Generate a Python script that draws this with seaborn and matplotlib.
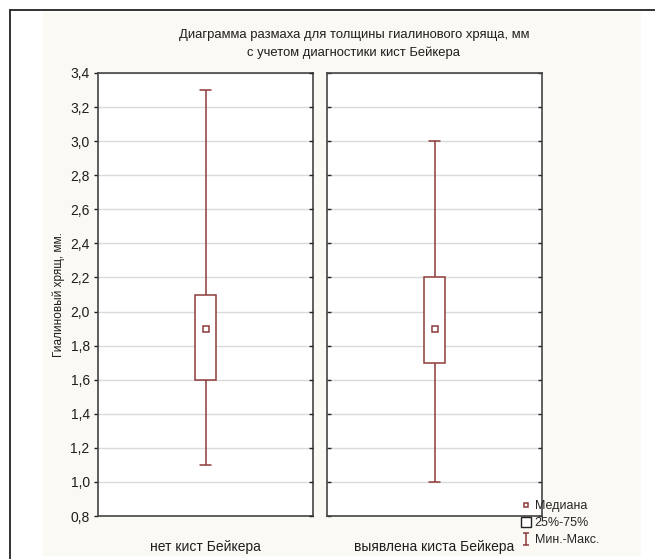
import numpy as np
import pandas as pd
import seaborn as sns
import matplotlib
matplotlib.use('Agg')
import matplotlib.pyplot as plt
from matplotlib.lines import Line2D
from matplotlib.patches import Patch, Rectangle
from matplotlib.path import Path
from matplotlib.ticker import FuncFormatter, MultipleLocator

# five-number summaries
groups = ['нет кист Бейкера', 'выявлена киста Бейкера']
mins = [1.1, 1.0]
q1s = [1.6, 1.7]
medians = [1.9, 1.9]
q3s = [2.1, 2.2]
maxs = [3.3, 3.0]

title = 'Диаграмма размаха для толщины гиалинового хряща, мм\nс учетом диагностики кист Бейкера'
ylabel = 'Гиалиновый хрящ, мм.'
legend_labels = ['Медиана', '25%-75%', 'Мин.-Макс.']

rows = []
for g, a, b, c, d, e in zip(groups, mins, q1s, medians, q3s, maxs):
    for v in (a, b, c, d, e):
        rows.append({'group': g, 'value': v})
df = pd.DataFrame(rows)

sns.set_style('white')
plt.rcParams['font.family'] = ['Liberation Sans', 'DejaVu Sans']

col = '#8E3B3B'
txt = '#1E1E1E'
W, H = 655, 559
fig = plt.figure(figsize=(W / 100, H / 100), dpi=100)
fig.patch.set_facecolor('white')

# cream panel and frame lines
fig.add_artist(Rectangle((43 / W, 1 - 556 / H), (641 - 43) / W, (556 - 12) / H,
                         transform=fig.transFigure, facecolor='#FBF9F4', edgecolor='none', zorder=0))
fig.add_artist(Line2D([10 / W, 10 / W], [0, 1 - 10 / H], transform=fig.transFigure, color='#222222', lw=1.3))
fig.add_artist(Line2D([10 / W, 1], [1 - 10 / H, 1 - 10 / H], transform=fig.transFigure, color='#222222', lw=1.3))

top, bot = 73, 516
panels = [(98, 313), (327, 542)]
fmt = FuncFormatter(lambda v, p: f'{v:.1f}'.replace('.', ','))
for i, (l, r) in enumerate(panels):
    ax = fig.add_axes([l / W, 1 - bot / H, (r - l) / W, (bot - top) / H])
    sub = df[df['group'] == groups[i]]
    sns.boxplot(data=sub, x='group', y='value', ax=ax, whis=(0, 100), width=0.1,
                color='white', linecolor=col, linewidth=1.1, fliersize=0,
                medianprops={'visible': False})
    sns.pointplot(data=sub, x='group', y='value', ax=ax, estimator='median', errorbar=None,
                  marker='s', linestyle='none', markersize=4.5, color=col,
                  markerfacecolor='white', markeredgewidth=1.1)
    ax.set_ylim(0.8, 3.4)
    ax.set_xlim(-0.5, 0.5)
    ax.yaxis.set_major_locator(MultipleLocator(0.2))
    ax.grid(axis='y', color='#DADADA', lw=1)
    ax.set_axisbelow(True)
    for s in ax.spines.values():
        s.set_color('#444444')
        s.set_linewidth(1.2)
    ax.set_xlabel('')
    ax.set_ylabel('')
    ax.tick_params(axis='x', length=0, pad=17, labelsize=10, colors=txt)
    if i == 0:
        ax.tick_params(axis='y', left=True, right=False, direction='out', length=3, width=1,
                       labelsize=10, colors=txt, pad=3)
        ax.yaxis.set_major_formatter(fmt)
        ax.set_ylabel(ylabel, fontsize=8.5, color=txt, labelpad=4)
        # inward ticks on the inner side
        tw = ax.twinx()
        tw.set_ylim(0.8, 3.4)
        tw.yaxis.set_major_locator(MultipleLocator(0.2))
        tw.tick_params(axis='y', right=True, direction='in', length=3, width=1, labelright=False)
        for s in tw.spines.values():
            s.set_visible(False)
    else:
        ax.tick_params(axis='y', left=True, right=True, direction='in', length=3, width=1,
                       labelleft=False)

fig.text(354 / W, 1 - 44 / H, title, ha='center', va='center', fontsize=9.4, color=txt,
         linespacing=1.6)

ibeam = Path([(-0.5, 1), (0.5, 1), (0, 1), (0, -1), (-0.5, -1), (0.5, -1)],
             [Path.MOVETO, Path.LINETO, Path.MOVETO, Path.LINETO, Path.MOVETO, Path.LINETO])
handles = [
    Line2D([], [], marker='s', linestyle='none', markersize=3.5, markerfacecolor='white',
           markeredgecolor=col, markeredgewidth=1.1),
    Patch(facecolor='white', edgecolor='#222222', linewidth=1),
    Line2D([], [], marker=ibeam, linestyle='none', markersize=9, markeredgecolor=col,
           markerfacecolor='none', markeredgewidth=1.1),
]
fig.legend(handles, legend_labels, loc='upper left', bbox_to_anchor=(521 / W, 1 - 500 / H),
           frameon=False, fontsize=9, handlelength=0.8, handleheight=0.8, handletextpad=0.3,
           labelspacing=0.4, borderpad=0, borderaxespad=0)

fig.savefig('out.png', dpi=100, facecolor='white')
